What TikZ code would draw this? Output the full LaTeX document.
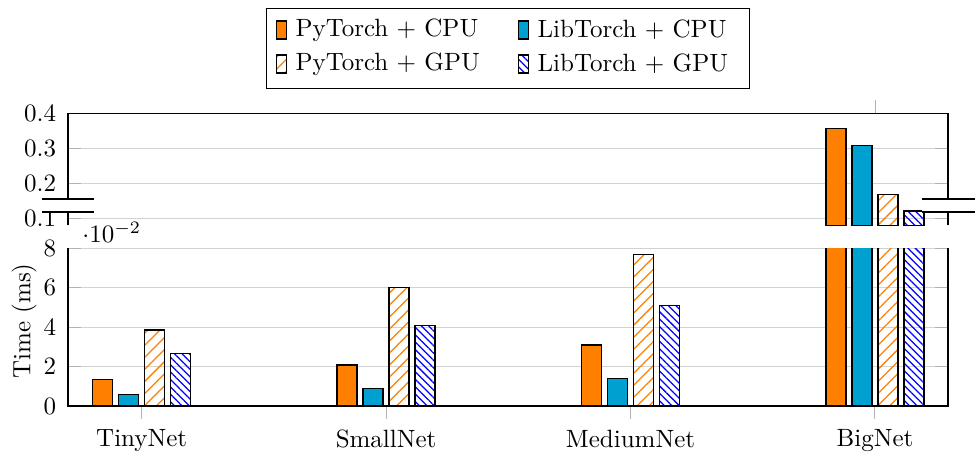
\documentclass[tikz,border=0pt]{standalone}
\usetikzlibrary{patterns.meta}
\definecolor{torchorange}{RGB}{255,127,0}
\definecolor{libblue}{RGB}{0,160,208}
\tikzset{
  axisline/.style={line width=0.6pt},
  gridline/.style={gray!35,line width=0.4pt},
  tickmark/.style={gray!60,line width=0.4pt},
  ticklabel/.style={anchor=east},
  pycpu/.style={draw=black,line width=0.5pt,fill=torchorange},
  libcpu/.style={draw=black,line width=0.5pt,fill=libblue},
  pygpu/.style={draw=black,line width=0.5pt,pattern={Lines[angle=45,distance=3.4pt,line width=0.5pt]},pattern color=torchorange},
  libgpu/.style={draw=black,line width=0.5pt,pattern={Lines[angle=-45,distance=2.1pt,line width=0.5pt]},pattern color=blue}
}

\begin{document}
\begin{tikzpicture}[x=0.4pt,y=-0.4pt,
    declare function={lo(\v)=406-19.7*\v; hi(\v)=218.3-350*(\v-0.1);}]
    \useasboundingbox (0,0) rectangle (975,454);

    % grid and ticks, upper part
    \foreach \v in {0.1,0.2,0.3} {
      \draw[gridline] (68,{hi(\v)}) -- (948,{hi(\v)});
      \draw[tickmark] (68,{hi(\v)}) -- (81,{hi(\v)});
      \draw[tickmark] (935,{hi(\v)}) -- (948,{hi(\v)});
    }
    % grid and ticks, lower part
    \foreach \v in {2,4,6,8} {
      \draw[gridline] (68,{lo(\v)}) -- (948,{lo(\v)});
      \draw[tickmark] (68,{lo(\v)}) -- (81,{lo(\v)});
      \draw[tickmark] (935,{lo(\v)}) -- (948,{lo(\v)});
    }
    \foreach \g in {0,1,2,3}
      \draw[tickmark] ({141.7+244.4*\g},{lo(0)}) -- ({141.7+244.4*\g},419);
    \draw[tickmark] (875,100) -- (875,{hi(0.4)});

    % bars, lower part (values in 10^-2), cut at 8
    \begin{scope}
      \clip (60,{lo(0)+6}) rectangle (960,{lo(8)});
      \foreach \g/\a/\b/\c/\d in {0/1.35/0.57/3.86/2.67,1/2.08/0.90/6.02/4.10,
                                  2/3.10/1.41/7.70/5.09,3/9/9/9/9} {
        \pgfmathsetmacro\cx{141.7+244.4*\g}
        \draw[pycpu] (\cx-49,{lo(0)}) rectangle (\cx-29,{lo(\a)});
        \draw[libcpu] (\cx-23,{lo(0)}) rectangle (\cx-3,{lo(\b)});
        \draw[pygpu] (\cx+3,{lo(0)}) rectangle (\cx+23,{lo(\c)});
        \draw[libgpu] (\cx+29,{lo(0)}) rectangle (\cx+49,{lo(\d)});
      }
    \end{scope}
    % bars, upper part (BigNet only)
    \draw[pycpu] (826,{hi(0.08)}) rectangle (846,{hi(0.357)});
    \draw[libcpu] (852,{hi(0.08)}) rectangle (872,{hi(0.307)});
    \draw[pygpu] (878,{hi(0.08)}) rectangle (898,{hi(0.169)});
    \draw[libgpu] (904,{hi(0.08)}) rectangle (924,{hi(0.121)});

    % axes
    \draw[axisline] (68,{hi(0.08)}) -- (68,{hi(0.4)}) -- (948,{hi(0.4)}) -- (948,{hi(0.08)});
    \draw[axisline] (68,{lo(8)}) -- (68,{lo(0)}) -- (948,{lo(0)}) -- (948,{lo(8)});

    % tick labels
    \foreach \v/\n in {0.1/a,0.2/b,0.3/c,0.4/d}
      \node[ticklabel] (hi\n) at (65,{hi(\v)}) {$\v$};
    \foreach \v in {0,2,4,6,8}
      \node[ticklabel] (lo\v) at (65,{lo(\v)}) {$\v$};
    \node[anchor=base west] (scale) at (73.5,242.3) {$\cdot 10^{-2}$};
    \node[rotate=90] (ylabel) at (24,321) {Time (ms)};

    \node[anchor=north] (tiny) at (141.7,421) {TinyNet};
    \node[anchor=north] (small) at (386.1,421) {SmallNet};
    \node[anchor=north] (medium) at (630.5,421) {MediumNet};
    \node[anchor=north] (big) at (875,421) {BigNet};

    % axis break
    \fill[white] (42,199) rectangle (94,212);
    \draw[axisline] (42,199) -- (94,199) (42,212) -- (94,212);
    \fill[white] (922,199) rectangle (975,212);
    \draw[axisline] (922,199) -- (975,199) (922,212) -- (975,212);

    % legend
    \draw[axisline,fill=white] (266.7,8.3) rectangle (749.3,88.3);
    \draw[pycpu] (276.7,21) rectangle (286.7,39);
    \node[anchor=west] (legA) at (286.7,30) {PyTorch + CPU};
    \draw[libcpu] (518.7,21) rectangle (528.7,39);
    \node[anchor=west] (legB) at (528.7,30) {LibTorch + CPU};
    \draw[pygpu] (276.7,55) rectangle (286.7,73);
    \node[anchor=west] (legC) at (286.7,64) {PyTorch + GPU};
    \draw[libgpu] (518.7,55) rectangle (528.7,73);
    \node[anchor=west] (legD) at (528.7,64) {LibTorch + GPU};
\end{tikzpicture}
\end{document}
